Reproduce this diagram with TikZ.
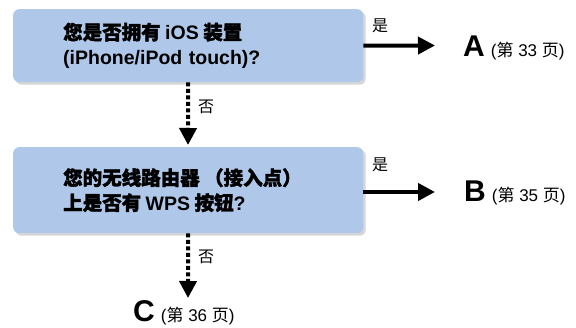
\documentclass[tikz,border=0pt]{standalone}
\usepackage{fontspec}
\setmainfont{Liberation Sans}
\newfontfamily\cjk{Noto Sans CJK SC}
\newfontfamily\cjkb{Noto Sans CJK SC}[FakeBold=1.8]
\usetikzlibrary{arrows.meta,shadows}
\definecolor{boxblue}{HTML}{AFC7E8}
\definecolor{shadowgray}{HTML}{D6D6D6}
\newcommand\zh[1]{{\cjk #1}}
\newcommand\zhb[1]{{\cjkb #1}}
\newcommand\gapsp{\hspace{4.5pt}}
\begin{document}
\begin{tikzpicture}[x=1pt,y=1pt,
  qbox/.style={fill=boxblue, rounded corners=6pt, minimum width=350pt,
    minimum height=#1, text width=250pt, inner xsep=50pt, inner ysep=0pt,
    align=left, anchor=north west,
    font=\fontsize{19.5}{25}\selectfont\bfseries,
    drop shadow={shadow xshift=2.5pt, shadow yshift=-2.5pt, fill=shadowgray, opacity=1}},
  solidarr/.style={line width=4pt, -{Triangle[length=17pt,width=17pt]}},
  dasharr/.style={line width=4pt, dash pattern=on 4pt off 2.5pt,
    -{Triangle[length=17pt,width=17pt]}},
  lbl/.style={inner sep=0pt, font=\fontsize{16}{16}\selectfont\cjk},
  dest/.style={inner sep=0pt, anchor=base west}]
\useasboundingbox (0,0) rectangle (576,-328);
\node[qbox=73pt] (q1) at (13,-9)
  {\zhb{您是否拥有}\gapsp iOS\gapsp\zhb{装置}\\(iPhone/iPod touch)?};
\node[qbox=86pt] (q2) at (13,-147)
  {\zhb{您的无线路由器}\gapsp\zhb{（接入点）}\\\zhb{上是否有}\gapsp WPS\gapsp\zhb{按钮}?};
\coordinate (ta) at (435,-45.5);
\coordinate (tb) at (435,-192);
\coordinate (tq2) at (188,-145);
\coordinate (tc) at (188,-298);
\coordinate (sb) at (363,-192);
\node[dest] (A) at (463,-57) {{\fontsize{30}{30}\selectfont\bfseries A}\hspace{6pt}{\fontsize{17}{17}\selectfont(\zh{第} 33 \zh{页})}};
\node[dest] (B) at (464,-202) {{\fontsize{30}{30}\selectfont\bfseries B}\hspace{6pt}{\fontsize{17}{17}\selectfont(\zh{第} 35 \zh{页})}};
\node[dest] (C) at (133,-322) {{\fontsize{30}{30}\selectfont\bfseries C}\hspace{6pt}{\fontsize{17}{17}\selectfont(\zh{第} 36 \zh{页})}};
\draw[solidarr] (q1.east) -- (ta);
\draw[solidarr] (sb) -- (tb);
\draw[dasharr] (q1.south) -- (tq2);
\draw[dasharr] (q2.south) -- (tc);
\node[lbl] (y1) at (380,-26) {是};
\node[lbl] (y2) at (380,-165) {是};
\node[lbl] (n1) at (206,-107) {否};
\node[lbl] (n2) at (206,-257) {否};
\end{tikzpicture}
\end{document}
